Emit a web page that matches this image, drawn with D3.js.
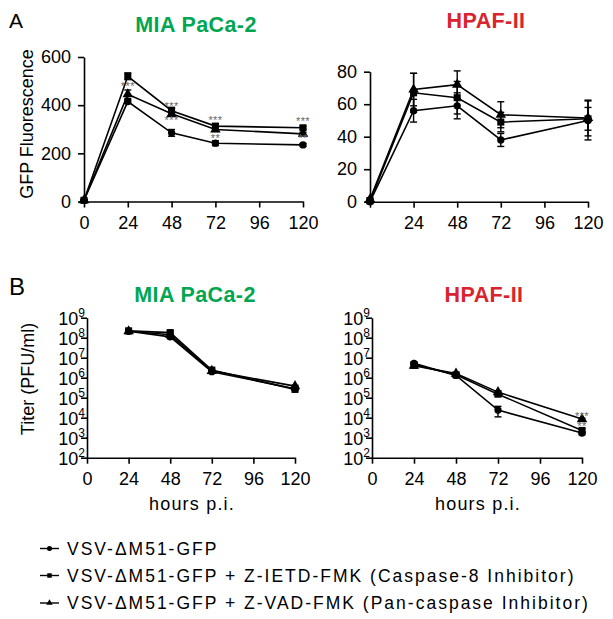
<!DOCTYPE html>
<html><head><meta charset="utf-8">
<script src="https://cdn.jsdelivr.net/npm/d3@7"></script>
<style>body{margin:0;background:#fff}svg{display:block}</style>
</head><body>
<svg id="c" width="613" height="619"></svg>
<script>
// ---------- data ----------
const seriesNames = ["VSV-\u0394M51-GFP",
  "VSV-\u0394M51-GFP + Z-IETD-FMK (Caspase-8 Inhibitor)",
  "VSV-\u0394M51-GFP + Z-VAD-FMK (Pan-caspase Inhibitor)"];
const seriesSymbols = ["circle", "square", "triangle"];
const cellLines = ["MIA PaCa-2", "HPAF-II"];
const hoursA = [0, 24, 48, 72, 120];
const hoursB = [24, 48, 72, 120];
const xTickValues = [0, 24, 48, 72, 96, 120];
const gfpTicksMia = [0, 200, 400, 600];
const gfpTicksHpaf = [0, 20, 40, 60, 80];
const titerTicks = [1e2, 1e3, 1e4, 1e5, 1e6, 1e7, 1e8, 1e9];

// A: GFP fluorescence, MIA PaCa-2
const gfpMiaVsv  = [5, 415, 285, 242, 235];
const gfpMiaVsvErr  = [3, 8, 14, 10, 6];
const gfpMiaIetd = [5, 520, 377, 313, 306];
const gfpMiaIetdErr = [3, 14, 14, 10, 6];
const gfpMiaVad  = [5, 445, 364, 299, 281];
const gfpMiaVadErr  = [3, 18, 10, 8, 6];
// A: GFP fluorescence, HPAF-II
const gfpHpafVsv  = [0, 56, 59, 38, 50];
const gfpHpafVsvErr  = [1, 7, 8, 4, 12];
const gfpHpafIetd = [0.5, 67, 64, 49, 51];
const gfpHpafIetdErr = [1, 12, 10, 6, 7];
const gfpHpafVad  = [1.5, 69, 72, 53.5, 51.5];
const gfpHpafVadErr  = [1, 10, 8.5, 8, 11];
// B: titer, MIA PaCa-2
const titerMiaVsv  = [2.1e8, 1.1e8, 2.0e6, 2.8e5];
const titerMiaVsvErr  = [0.2e8, 0.2e8, 0.2e6, 0.3e5];
const titerMiaIetd = [2.2e8, 1.8e8, 2.4e6, 2.6e5];
const titerMiaIetdErr = [0.3e8, 0.4e8, 0.3e6, 0.3e5];
const titerMiaVad  = [2.1e8, 1.4e8, 2.2e6, 3.8e5];
const titerMiaVadErr  = [0.2e8, 0.3e8, 0.2e6, 0.4e5];
// B: titer, HPAF-II
const titerHpafVsv  = [5.2e6, 1.3e6, 2.4e4, 1.7e3];
const titerHpafVsvErr  = [0.6e6, 0.2e6, 1.3e4, 0.3e3];
const titerHpafIetd = [4.4e6, 1.4e6, 1.5e5, 2.3e3];
const titerHpafIetdErr = [1.0e6, 0.2e6, 0.3e5, 0.5e3];
const titerHpafVad  = [4.0e6, 1.6e6, 1.9e5, 8.5e3];
const titerHpafVadErr  = [1.0e6, 0.2e6, 0.3e5, 1.0e3];

// significance marks: hour, value, label
const starsGfpMia = [[24, 488, "***"], [48, 408, "***"], [48, 350, "***"], [72, 350, "***"], [72, 275, "**"], [120, 346, "***"], [120, 272, "**"]];
const starsTiterHpaf = [[120, 1.7e4, "***"], [120, 4.9e3, "**"]];

// ---------- drawing ----------
const FONT = "'Liberation Sans', Arial, Helvetica, sans-serif";
const svg = d3.select("#c");
const symMap = {circle: d3.symbolCircle, square: d3.symbolSquare, triangle: d3.symbolTriangle};
const symSize = {circle: 42, square: 50, triangle: 48};

function panel(o) {
  const g = svg.append("g");
  const x = d3.scaleLinear().domain([0, 120]).range([o.x0, o.x1]);
  const y = (o.log ? d3.scaleLog() : d3.scaleLinear()).domain(o.yDomain).range([o.yBot, o.yTop]);

  const xa = g.append("g").attr("transform", `translate(0,${o.yBot})`)
    .call(d3.axisBottom(x).tickValues(xTickValues).tickSize(6).tickSizeOuter(0).tickPadding(4)
      .tickFormat(d => (d === 0 && !o.zeroLabel) ? "" : d));
  const ya = g.append("g").attr("transform", `translate(${o.x0},0)`)
    .call(d3.axisLeft(y).tickValues(o.yTicks).tickSize(6).tickSizeOuter(0).tickPadding(o.log ? 3 : 7)
      .tickFormat(o.log ? (() => "") : (d => d)));
  [xa, ya].forEach(a => {
    a.select(".domain").attr("stroke", "#000").attr("stroke-width", 1.6);
    a.selectAll(".tick line").attr("stroke", "#000").attr("stroke-width", 1.6);
    a.selectAll(".tick text").attr("fill", "#000").style("font-family", FONT).style("font-size", "18px");
  });
  xa.selectAll(".tick text").attr("dy", "0.95em");
  if (o.log) {
    ya.selectAll(".tick text").each(function(d) {
      const t = d3.select(this).text(null).attr("x", -2).attr("dy", "0.35em");
      t.append("tspan").text("10");
      t.append("tspan").attr("dy", "-0.62em").style("font-size", "12px").text(Math.round(Math.log10(d)));
    });
  }

  const line = d3.line().x(d => x(d[0])).y(d => y(d[1]));
  o.series.forEach((s, i) => {
    const pts = o.hours.map((h, k) => [h, s.v[k], s.e[k]]);
    g.append("path").datum(pts).attr("d", line).attr("fill", "none")
      .attr("stroke", "#000").attr("stroke-width", 1.6);
    pts.forEach(p => {
      const lo = o.log ? Math.max(p[1] - p[2], o.yDomain[0]) : p[1] - p[2];
      const hi = p[1] + p[2];
      const cx = x(p[0]);
      g.append("line").attr("x1", cx).attr("x2", cx).attr("y1", y(lo)).attr("y2", y(hi))
        .attr("stroke", "#000").attr("stroke-width", 1.4);
      [lo, hi].forEach(v => g.append("line").attr("x1", cx - 3.5).attr("x2", cx + 3.5)
        .attr("y1", y(v)).attr("y2", y(v)).attr("stroke", "#000").attr("stroke-width", 1.4));
    });
  });
  o.series.forEach((s, i) => {
    const sym = seriesSymbols[i];
    o.hours.forEach((h, k) => {
      g.append("path").attr("d", d3.symbol(symMap[sym], symSize[sym])())
        .attr("transform", `translate(${x(h)},${y(s.v[k])})`).attr("fill", "#000");
    });
  });
  (o.stars || []).forEach(st => {
    g.append("text").attr("x", x(st[0])).attr("y", y(st[1]) + 6.5).attr("text-anchor", "middle")
      .style("font-family", FONT).style("font-size", "11px").style("letter-spacing", "0.4px")
      .attr("fill", "#666").text(st[2]);
  });

  svg.append("text").attr("x", o.titleX).attr("y", o.titleY).attr("text-anchor", "middle")
    .style("font-family", FONT).style("font-size", "21.5px").style("font-weight", "bold")
    .style("letter-spacing", "0.4px").attr("fill", o.titleColor).text(o.title);
  if (o.xLabel) svg.append("text").attr("x", (o.x0 + o.x1) / 2 + 1).attr("y", 510).attr("text-anchor", "middle")
    .style("font-family", FONT).style("font-size", "18px").style("letter-spacing", "1.2px")
    .attr("fill", "#000").text(o.xLabel);
}

const GREEN = "#00a651", RED = "#d9232e";

panel({x0: 84, x1: 303, yBot: 201.5, yTop: 57, yDomain: [0, 600], yTicks: gfpTicksMia, zeroLabel: true,
  hours: hoursA, series: [{v: gfpMiaVsv, e: gfpMiaVsvErr}, {v: gfpMiaIetd, e: gfpMiaIetdErr}, {v: gfpMiaVad, e: gfpMiaVadErr}],
  stars: starsGfpMia, title: cellLines[0], titleX: 196, titleY: 32, titleColor: GREEN});
panel({x0: 370, x1: 588, yBot: 201.7, yTop: 71.7, yDomain: [0, 80], yTicks: gfpTicksHpaf, zeroLabel: false,
  hours: hoursA, series: [{v: gfpHpafVsv, e: gfpHpafVsvErr}, {v: gfpHpafIetd, e: gfpHpafIetdErr}, {v: gfpHpafVad, e: gfpHpafVadErr}],
  title: cellLines[1], titleX: 486, titleY: 28, titleColor: RED});
panel({x0: 87, x1: 295, yBot: 457.7, yTop: 317.7, yDomain: [1e2, 1e9], log: true, yTicks: titerTicks, zeroLabel: true,
  hours: hoursB, series: [{v: titerMiaVsv, e: titerMiaVsvErr}, {v: titerMiaIetd, e: titerMiaIetdErr}, {v: titerMiaVad, e: titerMiaVadErr}],
  title: cellLines[0], titleX: 195, titleY: 302, titleColor: GREEN, xLabel: "hours p.i."});
panel({x0: 372, x1: 582, yBot: 457.7, yTop: 317.7, yDomain: [1e2, 1e9], log: true, yTicks: titerTicks, zeroLabel: true,
  hours: hoursB, series: [{v: titerHpafVsv, e: titerHpafVsvErr}, {v: titerHpafIetd, e: titerHpafIetdErr}, {v: titerHpafVad, e: titerHpafVadErr}],
  stars: starsTiterHpaf, title: cellLines[1], titleX: 484, titleY: 302, titleColor: RED, xLabel: "hours p.i."});

svg.append("text").attr("x", 9).attr("y", 28).style("font-family", FONT).style("font-size", "21px").text("A");
svg.append("text").attr("x", 9).attr("y", 295).style("font-family", FONT).style("font-size", "24px").text("B");
svg.append("text").attr("transform", "translate(33,124) rotate(-90)").attr("text-anchor", "middle")
  .style("font-family", FONT).style("font-size", "18px").text("GFP Fluorescence");
svg.append("text").attr("transform", "translate(34,379) rotate(-90)").attr("text-anchor", "middle")
  .style("font-family", FONT).style("font-size", "18px").text("Titer (PFU/ml)");

// legend
const legY = [548.5, 575.5, 603];
seriesNames.forEach((n, i) => {
  const g = svg.append("g").attr("transform", `translate(0,${legY[i]})`);
  g.append("line").attr("x1", 40).attr("x2", 59).attr("stroke", "#000").attr("stroke-width", 1.4);
  const sym = seriesSymbols[i];
  g.append("path").attr("d", d3.symbol(symMap[sym], sym === "triangle" ? 18 : 20)()).attr("transform", "translate(49.5,0)");
  g.append("text").attr("x", 67).attr("y", 6.3).style("font-family", FONT).style("font-size", "17.5px")
    .style("letter-spacing", "2px").text(n);
});
</script>
</body></html>
